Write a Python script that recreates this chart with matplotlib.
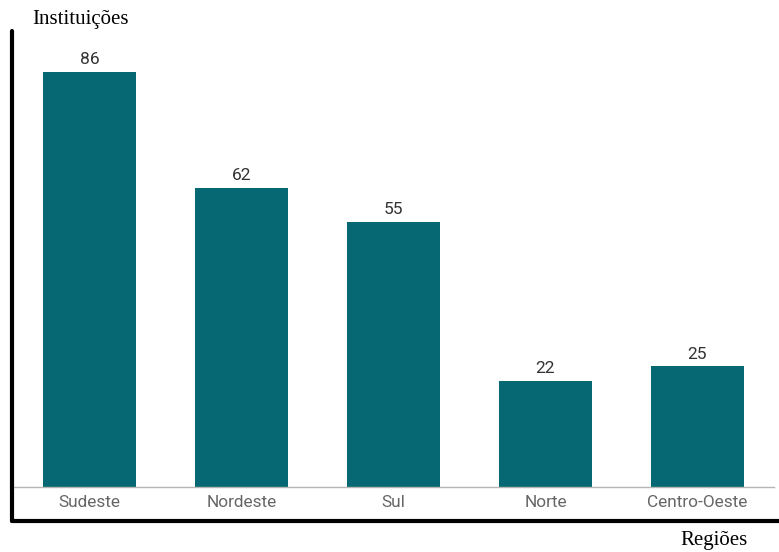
import matplotlib.pyplot as plt
from matplotlib.lines import Line2D

regioes = ["Sudeste", "Nordeste", "Sul", "Norte", "Centro-Oeste"]
instituicoes = [86, 62, 55, 22, 25]

W, H = 779, 552
fig = plt.figure(figsize=(W / 100, H / 100), dpi=100)
fig.patch.set_facecolor("white")

# axes placed in pixel terms: x 13.5..773.5, y (from top) 30..487
ax = fig.add_axes([13.5 / W, (H - 487) / H, 760 / W, 457 / H])
x = range(len(regioes))
bars = ax.bar(x, instituicoes, width=0.612, color="#056873")

for bar in bars:
    ax.text(bar.get_x() + bar.get_width() / 2, bar.get_height() + 1.0,
            f"{bar.get_height():.0f}", ha="center", va="bottom",
            color="#333333", fontsize=12.5, family="Roboto")

ax.set_xlim(-0.5, 4.5)
ax.set_ylim(0, 94.7)
ax.set_xticks(list(x))
ax.set_xticklabels(regioes, color="#666666", fontsize=12.4, family="Roboto")
ax.tick_params(axis="x", length=0, pad=6)
ax.set_yticks([])
for s in ["top", "left", "right"]:
    ax.spines[s].set_visible(False)
ax.spines["bottom"].set_color("#b5b5b5")
ax.spines["bottom"].set_linewidth(1)


def fx(px):
    return px / W


def fy(py):
    return (H - py) / H


# hand-drawn style axis lines
fig.add_artist(Line2D([fx(11.5), fx(11.5)], [fy(31), fy(521)], color="black",
                      linewidth=3, solid_capstyle="round"))
fig.add_artist(Line2D([fx(11.5), fx(779)], [fy(521), fy(521)], color="black",
                      linewidth=3, solid_capstyle="round"))

fig.text(fx(32), fy(24), "Instituições", family="Liberation Serif",
         fontsize=15, ha="left", va="baseline", color="black")
fig.text(fx(748), fy(545), "Regiões", family="Liberation Serif",
         fontsize=15, ha="right", va="baseline", color="black")

fig.savefig("out.png", dpi=100, facecolor="white")
